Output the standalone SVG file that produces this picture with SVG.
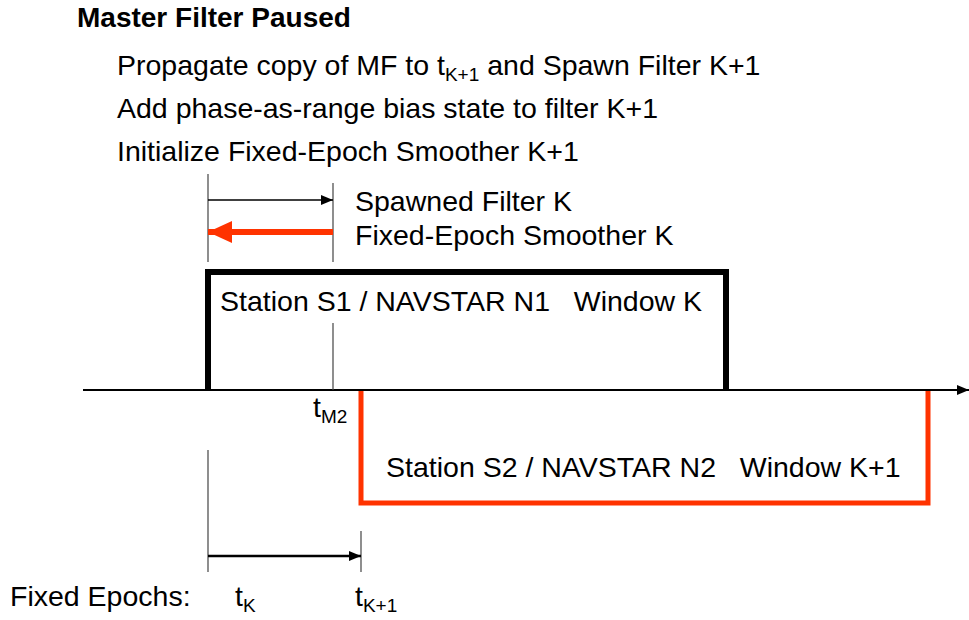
<svg xmlns="http://www.w3.org/2000/svg" width="969" height="620" viewBox="0 0 969 620">
<defs>
<style>
text{font-family:"Liberation Sans",Arial,sans-serif;fill:#000;white-space:pre}
.t{font-size:28.5px}
.s{font-size:19px}
.thin{stroke:#444;stroke-width:1.2;fill:none}
.blk{stroke:#000;stroke-width:6;fill:none}
.red{stroke:#ff3300;stroke-width:5;fill:none}
</style>
<marker id="ab" markerWidth="12" markerHeight="10" refX="12" refY="5" orient="auto" markerUnits="userSpaceOnUse"><path d="M0,0 L12,5 L0,10 z" fill="#000"/></marker>
<marker id="ar" markerWidth="24" markerHeight="22" refX="24" refY="11" orient="auto" markerUnits="userSpaceOnUse"><path d="M0,0 L24,11 L0,22 z" fill="#ff3300"/></marker>
</defs>
<rect width="969" height="620" fill="#fff"/>
<g id="header">
<text x="77" y="27" style="font-size:28px;font-weight:bold">Master Filter Paused</text>
<text x="117" y="75" class="t">Propagate copy of MF to t<tspan class="s" dy="6">K+1</tspan><tspan dy="-6"> and Spawn Filter K+1</tspan></text>
<text x="117" y="118" class="t">Add phase-as-range bias state to filter K+1</text>
<text x="117" y="161" class="t">Initialize Fixed-Epoch Smoother K+1</text>
</g>
<g id="window-k">
<path class="blk" d="M208,390 V272 H726 V390"/>
<text x="220" y="311" class="t">Station S1 / NAVSTAR N1   Window K</text>
</g>
<g id="window-k1">
<path class="red" d="M361,390 V503 H928 V390"/>
<text x="386" y="477" class="t">Station S2 / NAVSTAR N2   Window K+1</text>
</g>
<g id="legend">
<text x="355" y="211" class="t">Spawned Filter K</text>
<text x="355" y="245" class="t">Fixed-Epoch Smoother K</text>
</g>
<g id="labels">
<text x="313" y="417" class="t">t<tspan class="s" dy="6">M2</tspan></text>
<text x="10" y="606" class="t">Fixed Epochs:</text>
<text x="235" y="606" class="t">t<tspan class="s" dy="6">K</tspan></text>
<text x="355" y="606" class="t">t<tspan class="s" dy="6">K+1</tspan></text>
</g>
<g id="connectors">
<line x1="83" y1="390" x2="969" y2="390" stroke="#000" stroke-width="2" marker-end="url(#ab)"/>
<line class="thin" x1="208" y1="174" x2="208" y2="262"/>
<line class="thin" x1="333" y1="183" x2="333" y2="262"/>
<line x1="208" y1="200" x2="333" y2="200" stroke="#000" stroke-width="1.5" marker-end="url(#ab)"/>
<line x1="333" y1="232" x2="208" y2="232" stroke="#ff3300" stroke-width="6" marker-end="url(#ar)"/>
<line class="thin" x1="333" y1="323" x2="333" y2="390"/>
<line class="thin" x1="208" y1="450" x2="208" y2="572"/>
<line class="thin" x1="361" y1="531" x2="361" y2="572"/>
<line x1="208" y1="556" x2="361" y2="556" stroke="#000" stroke-width="2.5" marker-end="url(#ab)"/>
</g>
</svg>
